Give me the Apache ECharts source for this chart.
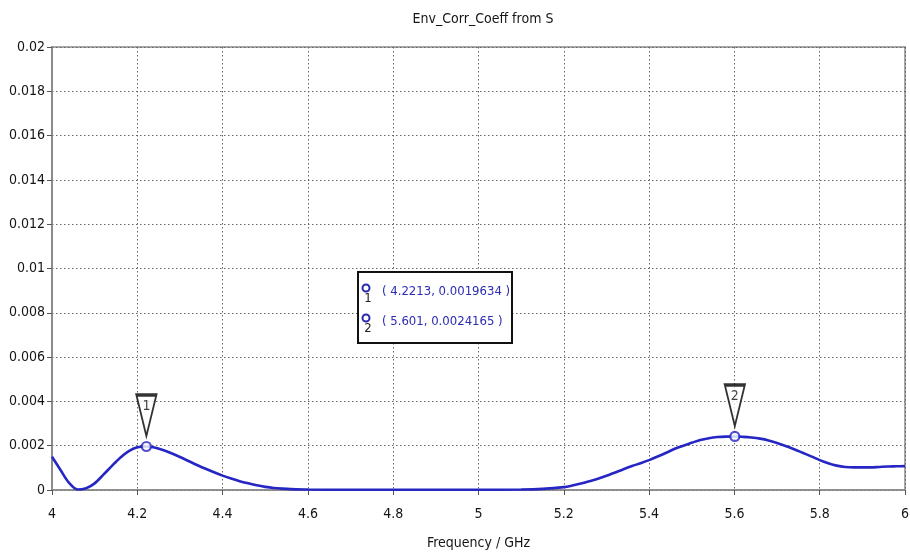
<!DOCTYPE html>
<html>
<head>
<meta charset="utf-8">
<script src="https://cdn.jsdelivr.net/npm/echarts@6/dist/echarts.min.js"></script>
<style>
  html, body { margin: 0; padding: 0; background: #fff; }
  #chart { width: 910px; height: 553px; }
</style>
</head>
<body>
<div id="chart"></div>
<script>
// Envelope correlation coefficient computed from S-parameters
const freqGHz = [
  4.00, 4.02, 4.04, 4.06, 4.08, 4.10, 4.12, 4.14, 4.16, 4.18, 4.20, 4.2213, 4.24, 4.26, 4.28, 4.30,
  4.32, 4.34, 4.36, 4.38, 4.40, 4.42, 4.44, 4.46, 4.48, 4.50, 4.52, 4.54, 4.56, 4.60, 4.70, 4.80,
  4.90, 5.00, 5.10, 5.15, 5.20, 5.22, 5.24, 5.26, 5.28, 5.30, 5.32, 5.34, 5.36, 5.38, 5.40, 5.42,
  5.44, 5.46, 5.48, 5.50, 5.52, 5.54, 5.56, 5.58, 5.601, 5.62, 5.64, 5.66, 5.68, 5.70, 5.72, 5.74,
  5.76, 5.78, 5.80, 5.82, 5.84, 5.86, 5.88, 5.90, 5.92, 5.94, 5.96, 5.98, 6.00
];
const envCorrCoeff = [
  0.00150, 0.00090, 0.00032, 0.00002, 0.00008, 0.00030, 0.00068, 0.00108, 0.00146, 0.00176, 0.00193, 0.0019634, 0.00192, 0.00181, 0.00166, 0.00149,
  0.00131, 0.00113, 0.00096, 0.00080, 0.00065, 0.00052, 0.00040, 0.00030, 0.00021, 0.00014, 0.00009, 0.00006, 0.00004, 0.00002, 0.00001, 0.00001,
  0.00001, 0.00001, 0.00002, 0.00005, 0.00013, 0.00020, 0.00029, 0.00040, 0.00051, 0.00064, 0.00079, 0.00094, 0.00108, 0.00121, 0.00135, 0.00151,
  0.00168, 0.00186, 0.00200, 0.00213, 0.00226, 0.00234, 0.00239, 0.00241, 0.0024165, 0.00240, 0.00237, 0.00232, 0.00224, 0.00212, 0.00199, 0.00184,
  0.00168, 0.00152, 0.00135, 0.00121, 0.00110, 0.00104, 0.00102, 0.00102, 0.00102, 0.00104, 0.00106, 0.00107, 0.00108
];

// Markers placed on the curve
const markerIds = ['1', '2'];
const markerFreq = [4.2213, 5.601];
const markerVal = [0.0019634, 0.0024165];

const xTicks = { min: 4, max: 6, step: 0.2 };
const yTicks = { min: 0, max: 0.02, step: 0.002 };

const titleText = 'Env_Corr_Coeff from S';
const xAxisName = 'Frequency / GHz';

const FONT = "'DejaVu Sans Condensed', 'DejaVu Sans', sans-serif";
const LINE_BLUE = '#2626c4';
const TEXT_BLUE = '#2a2ab4';
const TEXT_DARK = '#151515';

const curve = freqGHz.map((f, i) => [f, envCorrCoeff[i]]);
const markerPts = markerFreq.map((f, i) => [f, markerVal[i]]);

// Marker readout box
const boxX = 358, boxY = 272, boxW = 154, boxH = 71, rowH = 30;
const readout = [
  { type: 'rect', shape: { x: boxX, y: boxY, width: boxW, height: boxH },
    style: { fill: '#fff', stroke: '#111', lineWidth: 2 }, z: 10 }
];
markerIds.forEach((id, i) => {
  const cy = boxY + 20 + i * rowH;
  readout.push({ type: 'circle', shape: { cx: boxX + 8, cy: cy - 4, r: 3.5 },
    style: { fill: '#fff', stroke: TEXT_BLUE, lineWidth: 2 }, z: 11 });
  readout.push({ type: 'text', x: boxX + 10, y: cy + 7,
    style: { text: id, fill: '#222', font: '13px ' + FONT, align: 'center', verticalAlign: 'middle' }, z: 11 });
  readout.push({ type: 'text', x: boxX + 24, y: cy,
    style: { text: '( ' + markerFreq[i] + ', ' + markerVal[i] + ' )', fill: TEXT_BLUE,
             font: '13px ' + FONT, verticalAlign: 'middle' }, z: 11 });
});

const chart = echarts.init(document.getElementById('chart'), null, { renderer: 'canvas' });
chart.setOption({
  animation: false,
  backgroundColor: '#fff',
  title: {
    text: titleText, left: 478, top: 7, textAlign: 'center',
    textStyle: { fontFamily: FONT, fontSize: 14, fontWeight: 'normal', color: TEXT_DARK }
  },
  grid: {
    left: 52, right: 5, top: 47, bottom: 63,
    outerBoundsMode: 'none', containLabel: false,
    show: true, borderColor: '#8a8a8a', borderWidth: 1.5, backgroundColor: '#fff'
  },
  xAxis: {
    type: 'value', min: xTicks.min, max: xTicks.max, interval: xTicks.step,
    name: xAxisName, nameLocation: 'middle', nameGap: 46,
    nameTextStyle: { fontFamily: FONT, fontSize: 14, color: TEXT_DARK },
    axisLine: { show: true, lineStyle: { color: '#8a8a8a', width: 1.5 } },
    axisTick: { show: true, length: 5, lineStyle: { color: '#555' } },
    axisLabel: { fontFamily: FONT, fontSize: 14, color: TEXT_DARK, margin: 17,
                 formatter: v => String(Math.round(v * 10) / 10) },
    splitLine: { show: true, lineStyle: { color: '#666', type: [1.5, 2.5], width: 1 } }
  },
  yAxis: {
    type: 'value', min: yTicks.min, max: yTicks.max, interval: yTicks.step,
    axisLine: { show: true, lineStyle: { color: '#8a8a8a', width: 2 } },
    axisTick: { show: true, length: 5, lineStyle: { color: '#555' } },
    axisLabel: { fontFamily: FONT, fontSize: 14, color: TEXT_DARK, margin: 7,
                 formatter: v => String(Math.round(v * 1000) / 1000) },
    splitLine: { show: true, lineStyle: { color: '#666', type: [1.5, 2.5], width: 1 } }
  },
  series: [
    {
      name: 'Env_Corr_Coeff', type: 'line', data: curve, smooth: 0.3,
      showSymbol: false, lineStyle: { color: LINE_BLUE, width: 2.6 }, z: 3
    },
    {
      name: 'markerTags', type: 'scatter', data: markerPts,
      symbol: 'triangle', symbolRotate: 180, symbolSize: [20, 41], symbolOffset: [0, -31],
      itemStyle: { color: '#fff', borderColor: '#000', borderWidth: 2.4 },
      label: { show: true, position: 'inside', offset: [0, -9],
               formatter: p => markerIds[p.dataIndex],
               fontFamily: FONT, fontSize: 14, color: '#111' },
      silent: true, z: 4
    },
    {
      name: 'markerDots', type: 'scatter', data: markerPts,
      symbol: 'circle', symbolSize: 9,
      itemStyle: { color: '#fff', borderColor: LINE_BLUE, borderWidth: 2.2 },
      silent: true, z: 5
    }
  ],
  graphic: readout
});
</script>
</body>
</html>
